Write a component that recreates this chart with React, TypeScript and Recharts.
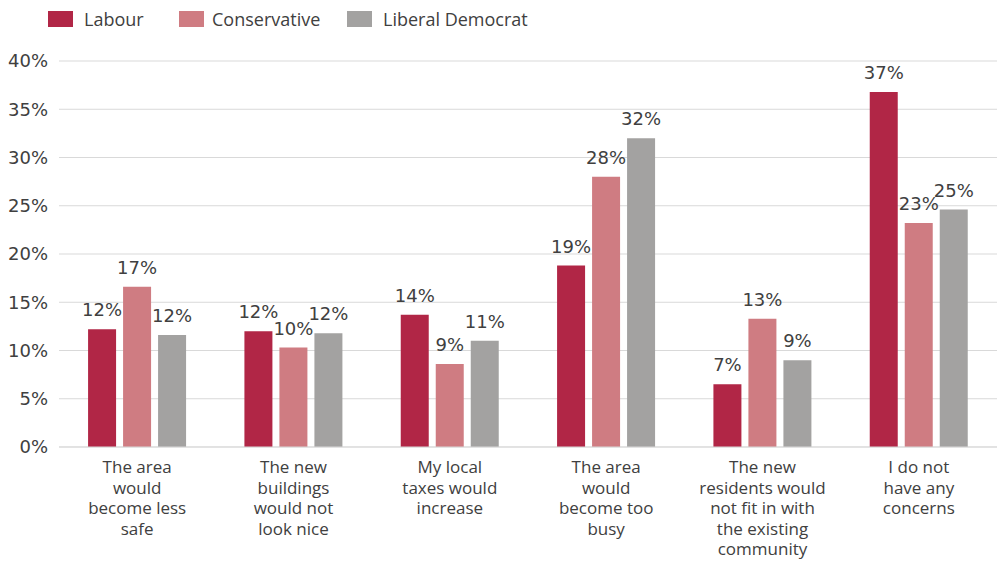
import React from 'react';
import {BarChart, Bar, XAxis, YAxis, CartesianGrid, LabelList} from 'recharts';

const categories = [
  'The area\nwould\nbecome less\nsafe',
  'The new\nbuildings\nwould not\nlook nice',
  'My local\ntaxes would\nincrease',
  'The area\nwould\nbecome too\nbusy',
  'The new\nresidents would\nnot fit in with\nthe existing\ncommunity',
  'I do not\nhave any\nconcerns',
];
const labour = [12.2, 12.0, 13.7, 18.8, 6.5, 36.8];
const conservative = [16.6, 10.3, 8.6, 28.0, 13.3, 23.2];
const libDem = [11.6, 11.8, 11.0, 32.0, 9.0, 24.6];
const yTicks = [0, 5, 10, 15, 20, 25, 30, 35, 40];

const series = [
  {key: 'labour', name: 'Labour', color: '#b12646'},
  {key: 'conservative', name: 'Conservative', color: '#cf7c82'},
  {key: 'libDem', name: 'Liberal Democrat', color: '#a3a2a1'},
];

const data = categories.map((c, i) => ({
  category: c,
  labour: labour[i],
  conservative: conservative[i],
  libDem: libDem[i],
}));

const textColor = '#404040';
const sansFont = '"Open Sans", "DejaVu Sans", sans-serif';

const CategoryTick = (props: any) => {
  const {x, y, payload} = props;
  const lines = String(payload.value).split('\n');
  return (
    <text
      x={x}
      y={y}
      textAnchor="middle"
      fill={textColor}
      fontSize={17}
      fontFamily={sansFont}
    >
      {lines.map((l, i) => (
        <tspan key={i} x={x} dy={i === 0 ? 18 : 20.5}>
          {l}
        </tspan>
      ))}
    </text>
  );
};

const legendPos = [
  {sq: 48, tx: 84},
  {sq: 179, tx: 212},
  {sq: 347, tx: 383},
];

const App = () => {
  return (
    <div style={{position: 'absolute', left: 0, top: 0, width: 997, height: 562, background: '#fff'}}>
      <div style={{position: 'absolute', left: 0, top: 0, width: 997, height: 40}}>
        {series.map((s, i) => (
          <React.Fragment key={s.key}>
            <div
              style={{
                position: 'absolute',
                left: legendPos[i].sq,
                top: 11,
                width: 25,
                height: 16,
                background: s.color,
              }}
            />
            <div
              style={{
                position: 'absolute',
                left: legendPos[i].tx,
                top: 6,
                fontFamily: sansFont,
                fontSize: 18,
                color: textColor,
                lineHeight: '26px',
              }}
            >
              {s.name}
            </div>
          </React.Fragment>
        ))}
      </div>
      <BarChart
        width={997}
        height={562}
        data={data}
        margin={{top: 61, right: 0, left: 0, bottom: 0}}
        barCategoryGap="18.6%"
        barGap={7}
      >
        <CartesianGrid vertical={false} stroke="#d9d9d9" />
        <XAxis
          dataKey="category"
          axisLine={{stroke: '#d9d9d9'}}
          tickLine={false}
          interval={0}
          height={115}
          tick={<CategoryTick />}
        />
        <YAxis
          width={59}
          domain={[0, 40]}
          ticks={yTicks}
          axisLine={false}
          tickLine={false}
          tickSize={0}
          tickMargin={11}
          tickFormatter={(v: number) => `${v}%`}
          tick={{fill: textColor, fontSize: 18, fontFamily: '"DejaVu Sans", sans-serif'}}
        />
        {series.map((s) => (
          <Bar key={s.key} dataKey={s.key} name={s.name} fill={s.color} isAnimationActive={false}>
            <LabelList
              dataKey={s.key}
              position="top"
              offset={13}
              formatter={(v: any) => `${Math.round(Number(v))}%`}
              fill={textColor}
              fontSize={18}
              fontFamily='"DejaVu Sans", sans-serif'
            />
          </Bar>
        ))}
      </BarChart>
    </div>
  );
};

export default App;
